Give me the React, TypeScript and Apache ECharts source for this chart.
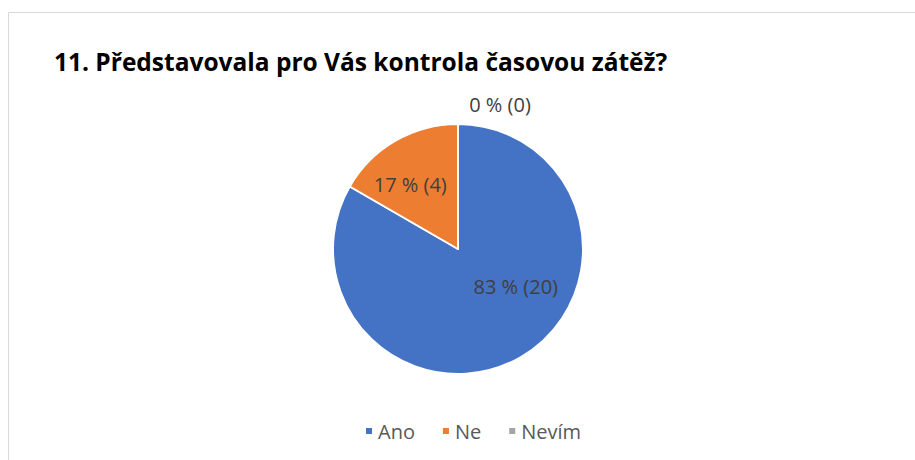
import React, { useEffect, useRef } from "react";
import * as echarts from "echarts";

const titleText = "11. Představovala pro Vás kontrola časovou zátěž?";
const categories = ["Ano", "Ne", "Nevím"];
const counts = [20, 4, 0];
const colors = ["#4472C4", "#ED7D31", "#A5A5A5"];
// label nudges relative to ECharts' default inside position (styling only)
const labelNudges = [
  [25, -19],
  [-15, -8],
  [42, -79],
];

const FONT = "'Open Sans', Lato, sans-serif";

export default function App() {
  const ref = useRef<HTMLDivElement>(null);
  useEffect(() => {
    if (!ref.current) return;
    const chart = echarts.init(ref.current, undefined, { renderer: "svg" });
    chart.setOption({
      animation: false,
      backgroundColor: "#ffffff",
      color: colors,
      title: {
        text: titleText,
        left: 49,
        top: 44,
        textStyle: {
          fontFamily: FONT,
          fontWeight: "bold",
          fontSize: 24.5,
          color: "#000000",
        },
      },
      graphic: [
        {
          type: "rect",
          shape: { x: 8.5, y: 12.5, width: 1000, height: 1000 },
          style: { fill: "none", stroke: "#d9d9d9", lineWidth: 1 },
          silent: true,
        },
      ],
      legend: {
        data: categories,
        left: 359,
        top: 416,
        icon: "rect",
        itemWidth: 8,
        itemHeight: 8,
        itemGap: 26,
        textStyle: { fontFamily: FONT, fontSize: 20, color: "#595959" },
      },
      series: [
        {
          type: "pie",
          center: [458, 249],
          radius: 125,
          startAngle: 90,
          clockwise: true,
          percentPrecision: 0,
          stillShowZeroSum: true,
          itemStyle: { borderColor: "#ffffff", borderWidth: 2 },
          label: {
            show: true,
            position: "inside",
            formatter: "{d} % ({c})",
            fontFamily: FONT,
            fontSize: 20,
            color: "#404040",
          },
          labelLine: { show: false },
          labelLayout: (p: any) => ({
            dx: labelNudges[p.dataIndex][0],
            dy: labelNudges[p.dataIndex][1],
          }),
          emphasis: { disabled: true },
          data: categories.map((name, i) => ({ name, value: counts[i] })),
        },
      ],
    });
    return () => chart.dispose();
  }, []);
  return (
    <div
      ref={ref}
      style={{ position: "fixed", left: 0, top: 0, width: 915, height: 460 }}
    />
  );
}
